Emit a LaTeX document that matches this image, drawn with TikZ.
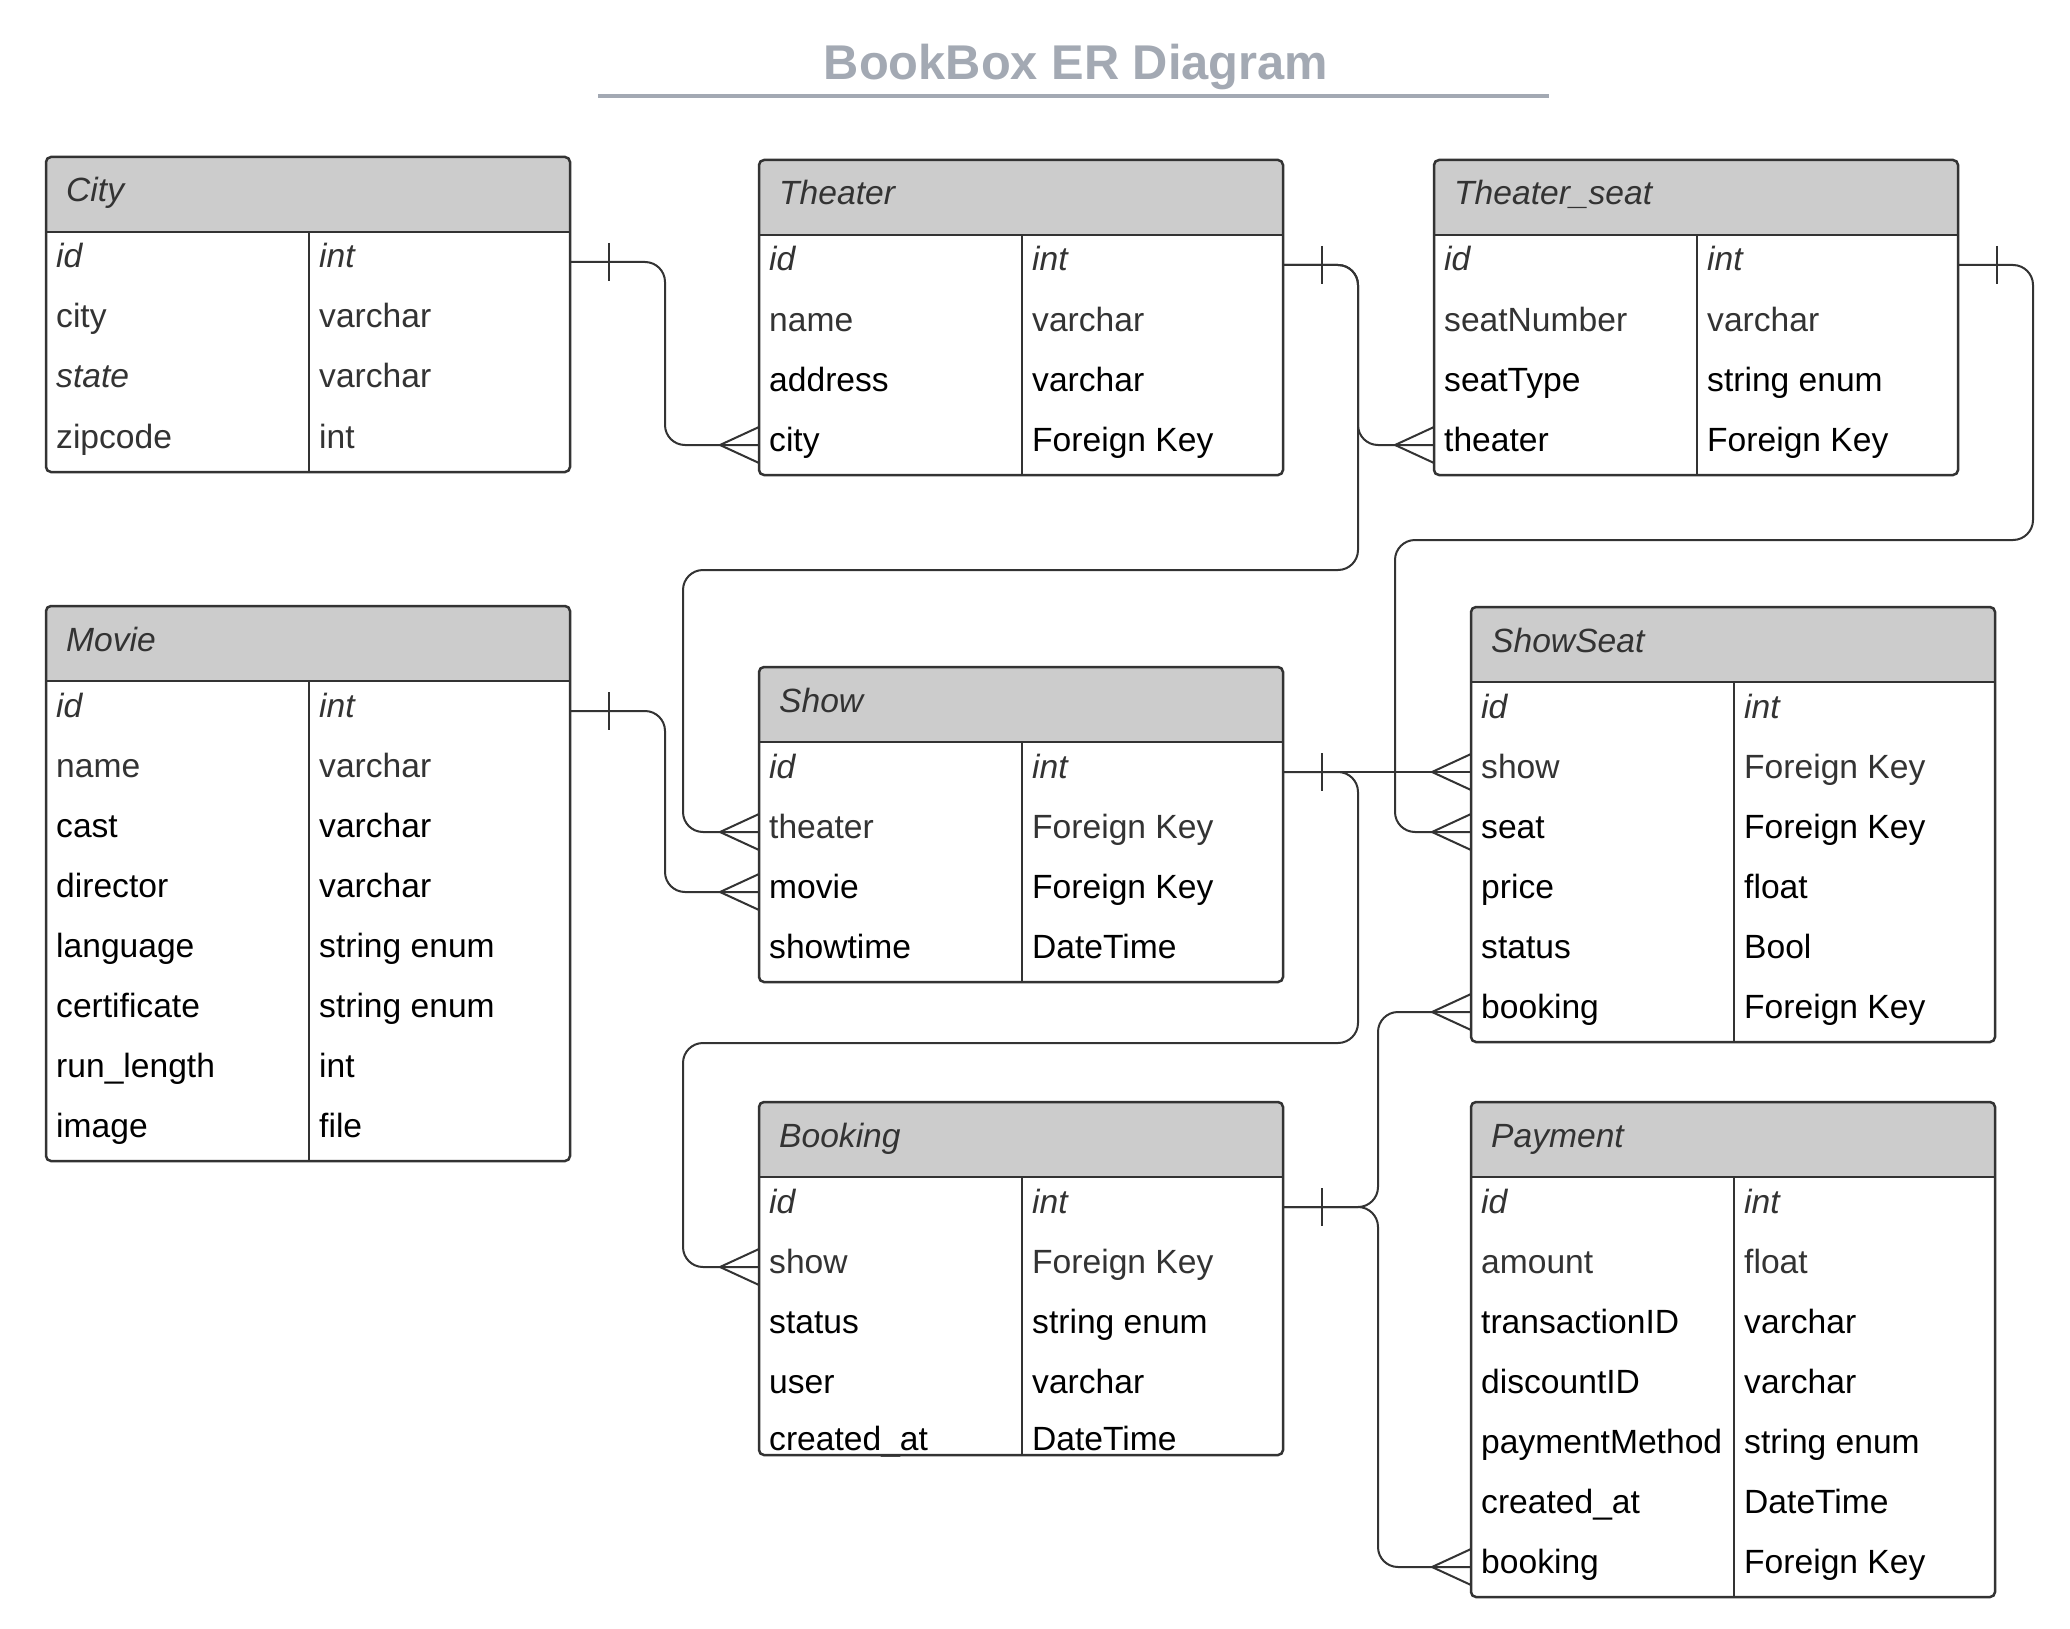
\documentclass[tikz,border=0pt]{standalone}
\usepackage{fontspec}
\setmainfont{Liberation Sans}
\usetikzlibrary{calc}

\definecolor{linegray}{HTML}{333333}
\definecolor{headfill}{HTML}{CCCCCC}
\definecolor{textdark}{HTML}{333333}
\definecolor{titlegray}{HTML}{A3A9B3}

% text formats for the rows
\newcommand{\fid}{\color{textdark}\itshape}
\newcommand{\fdk}{\color{textdark}}
\newcommand{\fbk}{\color{black}}

% entity table: name, title, left, top, height, rows key/field/type/format
\newcommand{\entity}[6]{%
  \begin{scope}
    \clip[rounded corners=5pt] (#3,#4) rectangle ++(524,#5);
    \fill[headfill] (#3,#4) rectangle ++(524,75);
  \end{scope}
  \node[head, anchor=base west] (#1) at ({#3+20},{#4+45}) {#2};
  \foreach \key/\fname/\ftype/\fmt [count=\i from 0] in {#6} {
    \node[row, anchor=north west] (#1-\key) at ({#3},{#4+75+60*\i}) {};
    \node[field, anchor=base west] (#1-\key-name) at ([xshift=10pt,yshift=-6pt]#1-\key.west) {\fmt\fname};
    \node[field, anchor=base west] (#1-\key-type) at ([xshift=273pt,yshift=-6pt]#1-\key.west) {\fmt\ftype};
  }
  \draw[tableline] (#3,{#4+75}) -- ++(524,0);
  \draw[tableline] ({#3+263},{#4+75}) -- ({#3+263},{#4+#5});
  \draw[tableborder] (#3,#4) rectangle ++(524,#5);
}

% relationship ends
\newcommand{\onebar}[1]{\draw[endline] ([xshift=39pt,yshift=19pt]#1.east) -- ([xshift=39pt,yshift=-19pt]#1.east);}
\newcommand{\crowfoot}[1]{\draw[endline] ([yshift=18pt]#1.west) -- ([xshift=-39pt]#1.west) -- ([yshift=-18pt]#1.west);}

\begin{document}
\begin{tikzpicture}[x=1pt, y=-1pt]
    \tikzstyle{row} = [minimum width=524pt, minimum height=60pt, inner sep=0pt, outer sep=0pt]
    \tikzstyle{field} = [inner sep=0pt, font=\fontsize{33.6pt}{40pt}\selectfont]
    \tikzstyle{head} = [inner sep=0pt, text=textdark, font=\fontsize{33.6pt}{40pt}\selectfont\itshape]
    \tikzstyle{title} = [inner sep=0pt, text=titlegray, font=\fontsize{48.8pt}{58pt}\selectfont\bfseries]
    \tikzstyle{tableborder} = [draw=linegray, line width=2.5pt, rounded corners=5pt]
    \tikzstyle{tableline} = [draw=linegray, line width=2pt]
    \tikzstyle{conn} = [draw=linegray, line width=2pt, rounded corners=20pt]
    \tikzstyle{endline} = [draw=linegray, line width=2pt]

    \fill[white] (0,0) rectangle (2070,1629);
    \useasboundingbox (0,0) rectangle (2070,1629);

    \node[title, anchor=base] (title) at (1076,80) {BookBox ER Diagram};
    \draw[titlegray, line width=4pt] (598,96) -- (1549,96);

    \entity{city}{City}{46}{157}{315}{id/id/int/\fid, city/city/varchar/\fdk,
        state/{\itshape state}/varchar/\fdk, zipcode/zipcode/int/\fdk}
    \entity{theater}{Theater}{759}{160}{315}{id/id/int/\fid, name/name/varchar/\fdk,
        address/address/varchar/\fbk, city/city/Foreign Key/\fbk}
    \entity{tseat}{Theater\_seat}{1434}{160}{315}{id/id/int/\fid, number/seatNumber/varchar/\fdk,
        type/seatType/string enum/\fbk, theater/theater/Foreign Key/\fbk}
    \entity{movie}{Movie}{46}{606}{555}{id/id/int/\fid, name/name/varchar/\fdk,
        cast/cast/varchar/\fbk, director/director/varchar/\fbk,
        language/language/string enum/\fbk, certificate/certificate/string enum/\fbk,
        length/run\_length/int/\fbk, image/image/file/\fbk}
    \entity{show}{Show}{759}{667}{315}{id/id/int/\fid, theater/theater/Foreign Key/\fdk,
        movie/movie/Foreign Key/\fbk, showtime/showtime/DateTime/\fbk}
    \entity{showseat}{ShowSeat}{1471}{607}{435}{id/id/int/\fid, show/show/Foreign Key/\fdk,
        seat/seat/Foreign Key/\fbk, price/price/float/\fbk,
        status/status/Bool/\fbk, booking/booking/Foreign Key/\fbk}
    \entity{booking}{Booking}{759}{1102}{353}{id/id/int/\fid, show/show/Foreign Key/\fdk,
        status/status/string enum/\fbk, user/user/varchar/\fbk,
        created/{\raisebox{3pt}{created\_at}}/{\raisebox{3pt}{DateTime}}/\fbk}
    \entity{payment}{Payment}{1471}{1102}{495}{id/id/int/\fid, amount/amount/float/\fdk,
        transaction/transactionID/varchar/\fbk, discount/discountID/varchar/\fbk,
        method/paymentMethod/string enum/\fbk, created/created\_at/DateTime/\fbk,
        booking/booking/Foreign Key/\fbk}

    % relationships
    \draw[conn] (city-id.east) -- ++(95,0) |- (theater-city.west);
    \draw[conn] (theater-id.east) -- ++(75,0) |- (tseat-theater.west);
    \draw[conn] (theater-id.east) -- ++(75,0) |- (683,570) |- (show-theater.west);
    \draw[conn] (tseat-id.east) -- ++(75,0) |- (1395,540) |- (showseat-seat.west);
    \draw[conn] (movie-id.east) -- ++(95,0) |- (show-movie.west);
    \draw[conn] (show-id.east) -- (showseat-show.west);
    \draw[conn] (show-id.east) -- ++(75,0) |- (683,1043) |- (booking-show.west);
    \draw[conn] (booking-id.east) -- ++(95,0) |- (showseat-booking.west);
    \draw[conn] (booking-id.east) -- ++(95,0) |- (payment-booking.west);

    \onebar{city-id}
    \onebar{theater-id}
    \onebar{tseat-id}
    \onebar{movie-id}
    \onebar{show-id}
    \onebar{booking-id}

    \crowfoot{theater-city}
    \crowfoot{tseat-theater}
    \crowfoot{show-theater}
    \crowfoot{show-movie}
    \crowfoot{showseat-show}
    \crowfoot{showseat-seat}
    \crowfoot{showseat-booking}
    \crowfoot{booking-show}
    \crowfoot{payment-booking}
\end{tikzpicture}
\end{document}
